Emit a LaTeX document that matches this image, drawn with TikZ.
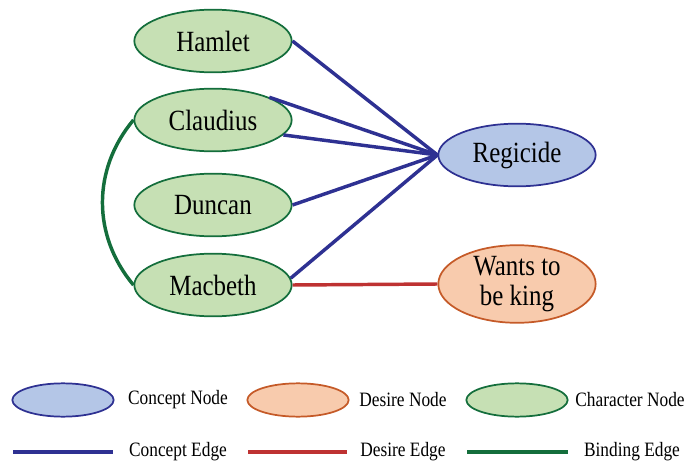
\documentclass[tikz,border=0pt]{standalone}
\usepackage{fontspec}
\setmainfont{Liberation Serif}
\newfontfamily\nodefont{Liberation Serif}[FakeStretch=0.85]
\usetikzlibrary{shapes.geometric}
\definecolor{charfill}{RGB}{198,224,180}
\definecolor{chardraw}{RGB}{20,110,60}
\definecolor{conceptfill}{RGB}{180,198,231}
\definecolor{conceptdraw}{RGB}{46,49,146}
\definecolor{desirefill}{RGB}{248,203,173}
\definecolor{desiredraw}{RGB}{197,90,40}
\definecolor{desireedge}{RGB}{190,50,50}

\begin{document}
\begin{tikzpicture}[x=0.75pt,y=0.75pt,
  bignode/.style={ellipse,line width=1.3pt,minimum width=118pt,minimum height=47pt,inner sep=0pt,align=center,font=\nodefont\fontsize{22}{22}\selectfont},
  character/.style={bignode,draw=chardraw,fill=charfill},
  concept/.style={bignode,draw=conceptdraw,fill=conceptfill},
  desire/.style={bignode,draw=desiredraw,fill=desirefill,minimum height=58pt},
  keynode/.style={ellipse,line width=1.3pt,minimum width=76pt,minimum height=25pt,inner sep=0pt},
  keytext/.style={font=\nodefont\fontsize{15.3}{15.3}\selectfont},
  conceptedge/.style={line width=2.6pt,draw=conceptdraw},
  desireedge/.style={line width=2.6pt,draw=desireedge},
  bindingedge/.style={line width=2.6pt,draw=chardraw}]
\useasboundingbox (0,0) rectangle (690,-464);

\node[character] (hamlet) at (213,-41) {Hamlet};
\node[character] (claudius) at (213,-120) {Claudius};
\node[character] (duncan) at (213,-205) {Duncan};
\node[character] (macbeth) at (213,-285) {Macbeth};
\node[concept] (regicide) at (517,-155) {Regicide};
\node[desire] (king) at (517,-284) {Wants to\\be king};

\draw[conceptedge] (hamlet.east) -- (regicide.west);
\draw[conceptedge] (claudius.22) -- (regicide.west);
\draw[conceptedge] (claudius.-12) -- (regicide.west);
\draw[conceptedge] (duncan.east) -- (regicide.west);
\draw[conceptedge] (macbeth.5) -- (regicide.west);
\draw[desireedge] (macbeth.east) -- (king.west);
\draw[bindingedge] (claudius.west) to[bend right=40] (macbeth.west);

% legend
\node[keynode,draw=conceptdraw,fill=conceptfill] (kconcept) at (63,-400) {};
\node[keytext] (tconcept) at (178,-400) {Concept Node};
\node[keynode,draw=desiredraw,fill=desirefill] (kdesire) at (298,-400) {};
\node[keytext] (tdesire) at (403,-400) {Desire Node};
\node[keynode,draw=chardraw,fill=charfill] (kchar) at (517,-400) {};
\node[keytext] (tchar) at (630,-400) {Character Node};

\coordinate (a1) at (13,-452); \coordinate (a2) at (113,-452);
\coordinate (b1) at (248,-452); \coordinate (b2) at (347,-452);
\coordinate (c1) at (467,-452); \coordinate (c2) at (568,-452);
\draw[conceptedge,line width=3pt] (a1) -- (a2);
\draw[desireedge,line width=3pt] (b1) -- (b2);
\draw[bindingedge,line width=3pt] (c1) -- (c2);
\node[keytext] (tcedge) at (178,-452) {Concept Edge};
\node[keytext] (tdedge) at (403,-452) {Desire Edge};
\node[keytext] (tbedge) at (632,-452) {Binding Edge};
\end{tikzpicture}
\end{document}
